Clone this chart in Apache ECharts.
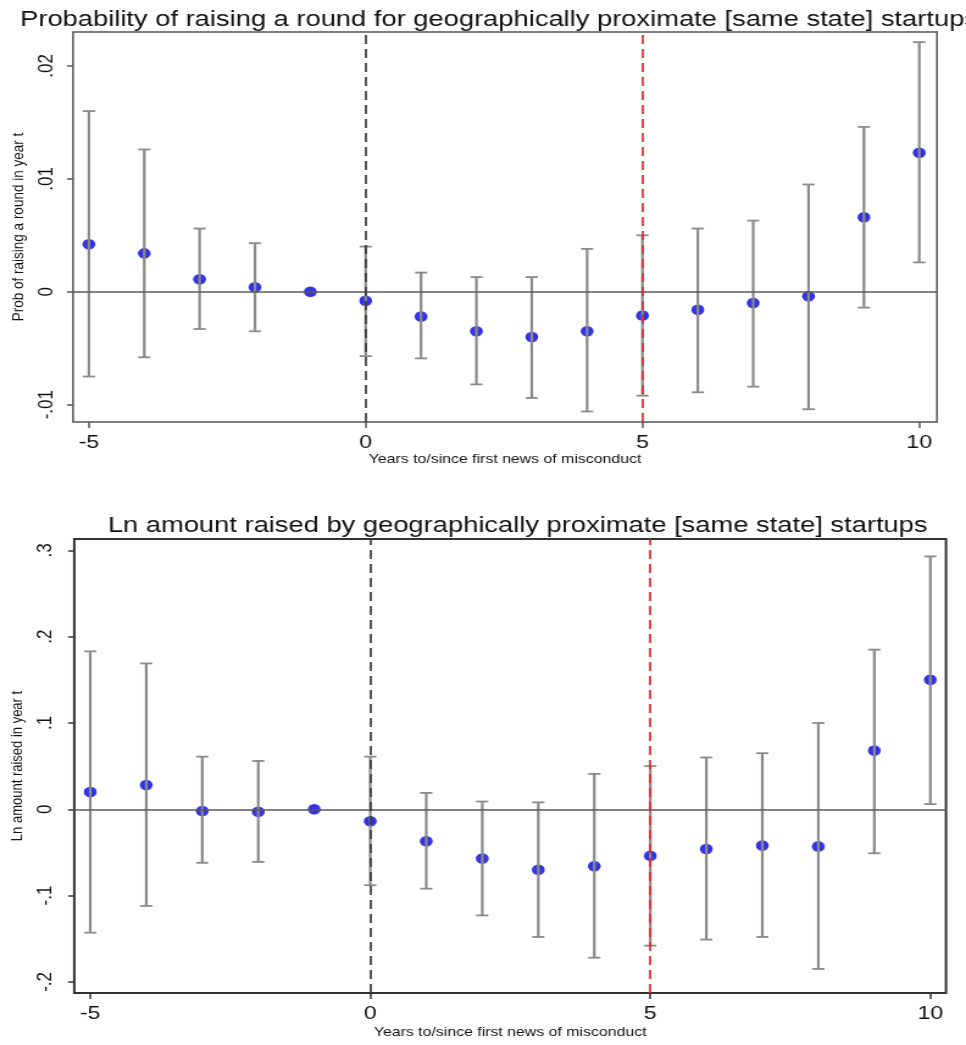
<!DOCTYPE html>
<html><head><meta charset="utf-8">
<script src="https://cdn.jsdelivr.net/npm/echarts@6/dist/echarts.min.js"></script>
<style>
html,body{margin:0;padding:0;background:#fff;overflow:hidden;}
#wrap{width:966px;height:1045px;overflow:hidden;position:relative;background:#fff;}
#chart{width:792px;height:1045px;transform:scaleX(1.219697);transform-origin:0 0;}
</style></head><body>
<div id="wrap"><div id="chart"></div></div>
<script>
// ---- data ----
const years = [-5,-4,-3,-2,-1,0,1,2,3,4,5,6,7,8,9,10];
const xTicks = [-5,0,5,10];

const probCoef = [0.0042,0.0034,0.0011,0.0004,0,-0.0008,-0.0022,-0.0035,-0.0040,-0.0035,-0.0021,-0.0016,-0.0010,-0.0004,0.0066,0.0123];
const probLow  = [-0.0075,-0.0058,-0.0033,-0.0035,null,-0.0057,-0.0059,-0.0082,-0.0094,-0.0106,-0.0092,-0.0089,-0.0084,-0.0104,-0.0014,0.0026];
const probHigh = [0.0160,0.0126,0.0056,0.0043,null,0.0040,0.0017,0.0013,0.0013,0.0038,0.0050,0.0056,0.0063,0.0095,0.0146,0.0221];
const probTicks = [-0.01,0,0.01,0.02];

const amtCoef = [0.020,0.028,-0.002,-0.003,0,-0.014,-0.037,-0.057,-0.070,-0.066,-0.054,-0.046,-0.042,-0.043,0.068,0.150];
const amtLow  = [-0.143,-0.112,-0.062,-0.061,null,-0.088,-0.092,-0.123,-0.148,-0.172,-0.158,-0.151,-0.148,-0.185,-0.051,0.006];
const amtHigh = [0.183,0.169,0.061,0.056,null,0.061,0.019,0.009,0.008,0.041,0.050,0.060,0.065,0.100,0.185,0.293];
const amtTicks = [-0.2,-0.1,0,0.1,0.2,0.3];

const titleTop = 'Probability of raising a round for geographically proximate [same state] startups';
const titleBottom = 'Ln amount raised by geographically proximate [same state] startups';
const yNameTop = 'Prob of raising a round in year t';
const yNameBottom = 'Ln amount raised in year t';
const xName = 'Years to/since first news of misconduct';

// ---- helpers ----
const FONT = '"Liberation Sans", Arial, Helvetica, sans-serif';
function fmt(v){ if (v === 0) return '0'; return String(v).replace('0.', '.'); }

function errBar(params, api){
  const x = api.value(0), lo = api.value(1), hi = api.value(2);
  const pLo = api.coord([x, lo]), pHi = api.coord([x, hi]);
  const hw = 5;
  const sBar = {stroke:'#8a8a8a', lineWidth:2.2, fill:null};
  const sCap = {stroke:'#8a8a8a', lineWidth:1.8, fill:null};
  return {type:'group', children:[
    {type:'line', shape:{x1:pLo[0],y1:pLo[1],x2:pHi[0],y2:pHi[1]}, style:sBar},
    {type:'line', shape:{x1:pLo[0]-hw,y1:pLo[1],x2:pLo[0]+hw,y2:pLo[1]}, style:sCap},
    {type:'line', shape:{x1:pHi[0]-hw,y1:pHi[1],x2:pHi[0]+hw,y2:pHi[1]}, style:sCap}
  ]};
}
function barData(lo, hi){
  const out = [];
  years.forEach((y,i)=>{ if (lo[i] !== null) out.push([y, lo[i], hi[i]]); });
  return out;
}
function xAxisDef(grid, mn, mx, gap, frameColor){
  return {gridIndex:grid, type:'value', min:mn, max:mx,
    axisLine:{show:false, onZero:false}, splitLine:{show:false},
    axisTick:{show:true, customValues:xTicks, length:6, lineStyle:{color:frameColor, width:1.5}},
    axisLabel:{customValues:xTicks, fontSize:19, color:'#111', margin:11, fontFamily:FONT},
    name:xName, nameLocation:'middle', nameGap:gap,
    nameTextStyle:{fontSize:13, color:'#111', fontFamily:FONT}};
}
function yAxisDef(grid, mn, mx, ticks, name, gap, nameSize, margin, frameColor){
  return {gridIndex:grid, type:'value', min:mn, max:mx,
    axisLine:{show:false, onZero:false}, splitLine:{show:false},
    axisTick:{show:true, customValues:ticks, length:5, lineStyle:{color:frameColor, width:1.5}},
    axisLabel:{customValues:ticks, rotate:90, fontSize:17, color:'#111', margin:margin, formatter:fmt, fontFamily:FONT},
    name:name, nameLocation:'middle', nameRotate:90, nameGap:gap,
    nameTextStyle:{fontSize:nameSize, color:'#111', fontFamily:FONT}};
}
function refLines(xi){
  return {type:'line', xAxisIndex:xi, yAxisIndex:xi, data:[], z:5, silent:true,
    markLine:{silent:true, symbol:'none', animation:false, z:5, label:{show:false},
      data:[
        {yAxis:0, lineStyle:{color:'#5a5a5a', width:1.5, type:'solid'}},
        {xAxis:0, lineStyle:{color:'#3a3a3a', width:1.7, type:[9,5]}},
        {xAxis:5, lineStyle:{color:'#e8262b', width:1.7, type:[9,5]}}
      ]}};
}

const chart = echarts.init(document.getElementById('chart'), null, {renderer:'canvas'});
chart.setOption({
  animation:false,
  backgroundColor:'#fff',
  title:[
    {text:titleTop, left:11.5, top:4, textStyle:{fontSize:22.4, fontWeight:'normal', color:'#111', fontFamily:FONT}},
    {text:titleBottom, left:83.4, top:510, textStyle:{fontSize:22.4, fontWeight:'normal', color:'#111', fontFamily:FONT}}
  ],
  grid:[
    {left:51.65, right:23.8, top:32, height:390, show:true, borderColor:'#555', borderWidth:1.5, backgroundColor:'transparent'},
    {left:59.3, right:16.4, top:539, height:454, show:true, borderColor:'#333', borderWidth:2, backgroundColor:'transparent'}
  ],
  xAxis:[
    xAxisDef(0, -5.286, 10.32, 31, '#555'),
    xAxisDef(1, -5.285, 10.28, 33, '#333')
  ],
  yAxis:[
    yAxisDef(0, -0.01153, 0.0230, probTicks, yNameTop, 30, 13.5, 13, '#555'),
    yAxisDef(1, -0.2129, 0.3132, amtTicks, yNameBottom, 35, 13, 15, '#333')
  ],
  series:[
    {type:'scatter', xAxisIndex:0, yAxisIndex:0, z:2, symbol:'circle', symbolSize:10.6,
      itemStyle:{color:'#0000dc'}, data:years.map((y,i)=>[y, probCoef[i]])},
    {type:'custom', xAxisIndex:0, yAxisIndex:0, z:3, renderItem:errBar,
      encode:{x:0, y:[1,2]}, data:barData(probLow, probHigh)},
    refLines(0),
    {type:'scatter', xAxisIndex:1, yAxisIndex:1, z:2, symbol:'circle', symbolSize:10.6,
      itemStyle:{color:'#0000dc'}, data:years.map((y,i)=>[y, amtCoef[i]])},
    {type:'custom', xAxisIndex:1, yAxisIndex:1, z:3, renderItem:errBar,
      encode:{x:0, y:[1,2]}, data:barData(amtLow, amtHigh)},
    refLines(1)
  ]
});
</script>
</body></html>
